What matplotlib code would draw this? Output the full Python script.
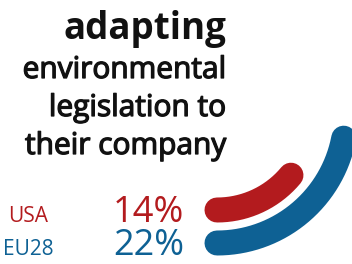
import numpy as np
import matplotlib
matplotlib.use("Agg")
import matplotlib.pyplot as plt
import matplotlib.patheffects as pe

# ---- data ----
title_lines = ["adapting", "environmental", "legislation to", "their company"]
regions = ["USA", "EU28"]
values = [14, 22]           # percent
colors = ["#B31B1E", "#0E6194"]

W, H = 352, 264
fig = plt.figure(figsize=(W / 100, H / 100), dpi=100)
ax = fig.add_axes([0, 0, 1, 1])
ax.set_xlim(0, W)
ax.set_ylim(H, 0)
ax.set_aspect("equal")
ax.axis("off")

# ---- radial arcs ----
cx, cy = 217, 114
radii = [96, 129]
for v, r, c in zip(values, radii, colors):
    theta = np.linspace(0, 2 * np.pi * v / 100, 200)
    ax.plot(cx + r * np.sin(theta), cy + r * np.cos(theta), color=c,
            lw=18, solid_capstyle="round")

# ---- title ----
baselines = [39, 78, 116, 154]
for i, (t, yb) in enumerate(zip(title_lines, baselines)):
    txt = ax.text(226, yb, t, ha="right", va="baseline", color="#111111",
                  fontsize=26.5 if i == 0 else 21.5,
                  fontweight="bold" if i == 0 else "normal",
                  family="Open Sans")
    if i > 0:
        txt.set_path_effects([pe.withStroke(linewidth=0.9, foreground="#111111")])

# ---- labels ----
lab_base = [222, 255]
for name, v, c, yb in zip(regions, values, colors, lab_base):
    ax.text(28, yb, name, ha="center", va="baseline", color=c, fontsize=15,
            family="Open Sans")
    ax.text(184, yb, f"{v}%", ha="right", va="baseline", color=c,
            fontsize=26, family="Open Sans")

fig.savefig("out.png", dpi=100)
